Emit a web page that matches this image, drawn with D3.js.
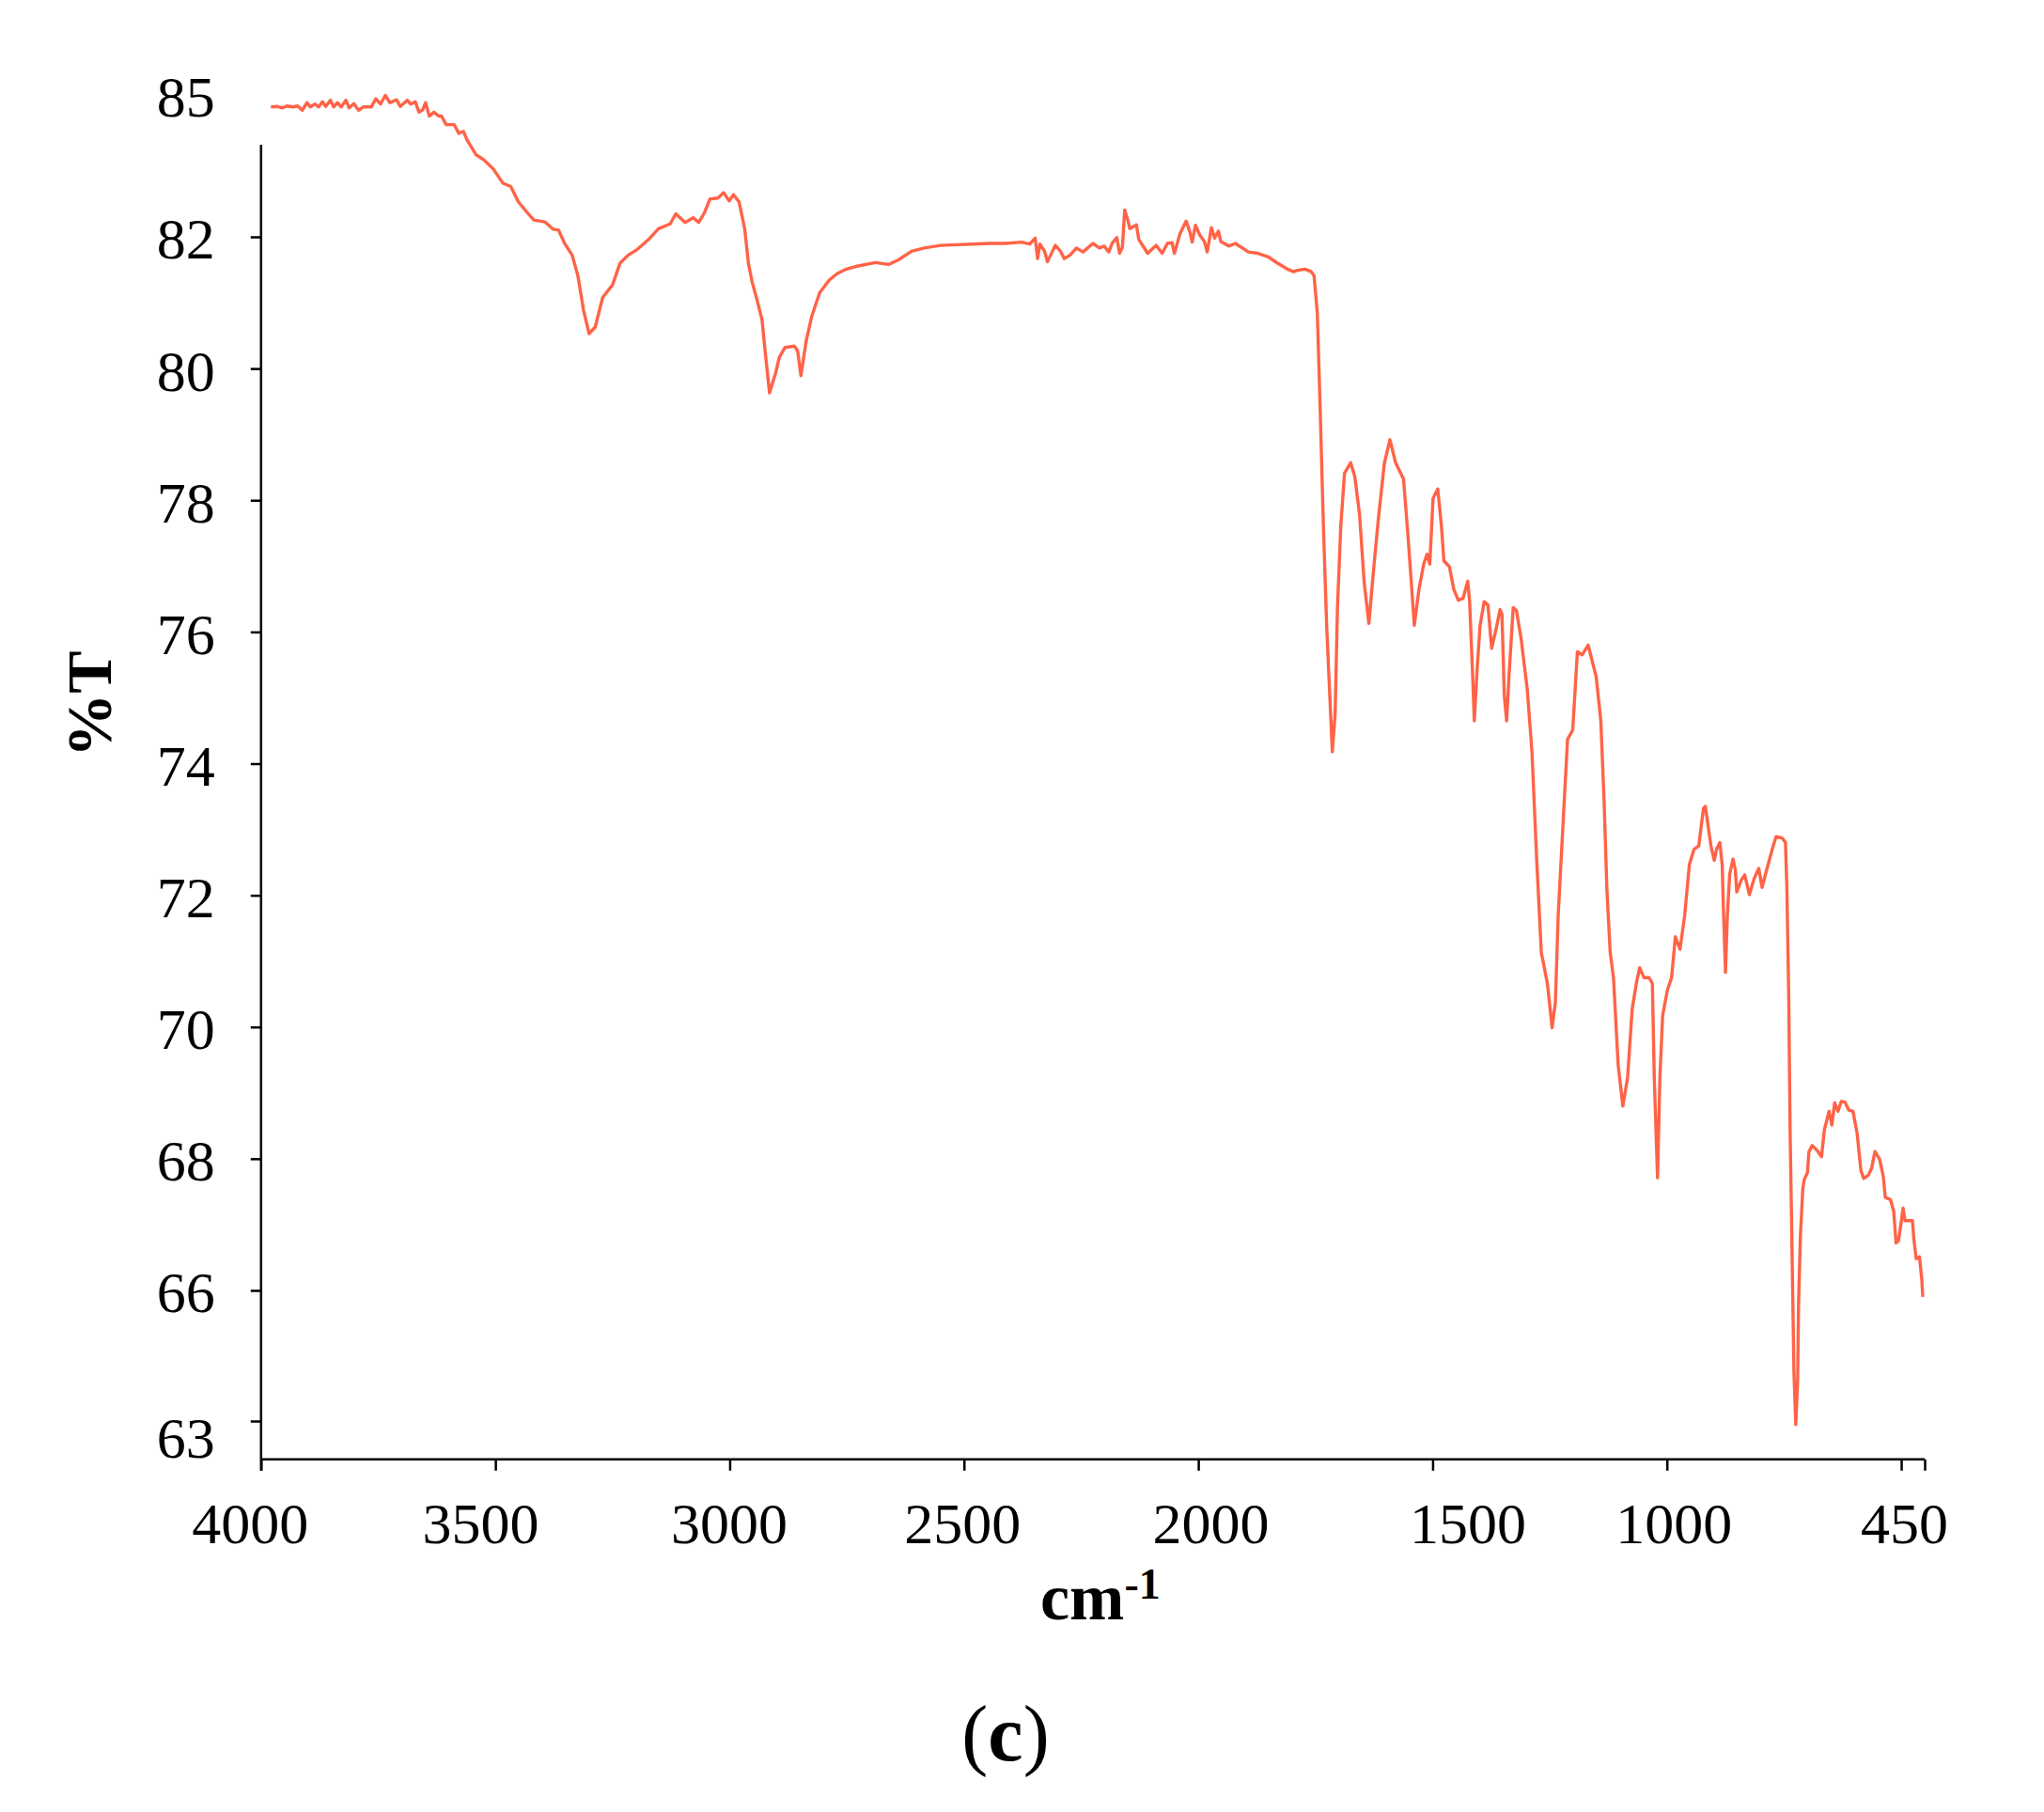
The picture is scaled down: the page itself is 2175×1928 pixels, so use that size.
<!DOCTYPE html>
<html>
<head>
<meta charset="utf-8">
<script src="https://cdn.jsdelivr.net/npm/d3@7"></script>
<style>
  html, body { margin: 0; padding: 0; background: #ffffff; }
  svg { display: block; }
  text { font-family: "Liberation Serif", "Times New Roman", serif; fill: #000; }
</style>
</head>
<body>
<svg id="chart" width="2175" height="1928"></svg>
<script>
// ---- data (wavenumber in cm-1, transmittance in %T) ----
const wavenumbers = [
  3979,3965,3955,3945,3932,3922,3912,3902,3895,3885,3877,3869,3862,3852,3845,3837,3829,3819,3812,3802,
  3792,3782,3765,3755,3745,3735,3725,3711,3703,3688,3681,3671,3663,3655,3649,3641,3631,3621,3615,3605,
  3588,3578,3568,3561,
  3541,3525,3504,
  3484,3467,3451,3434,3418,3394,3377,3365,3353,3336,3324,3312,3300,3287,3271,3250,3234,3217,3197,3173,
  3152,3127,3115,3095,3078,3066,3054,3042,3025,3013,3001,2992,2980,2968,2960,2952,2943,2931,2923,2915,
  2902,2894,2882,2862,2855,2848,2837,2825,2808,2788,2771,2751,2731,2689,2661,2640,2612,2585,2550,2516,
  2481,2447,2412,2377,2360,2348,2343,2338,2328,2322,2312,2305,2294,2286,2274,2260,2246,2225,2211,2201,
  2191,2184,2174,2168,2162,2157,2151,2146,2132,2127,2108,2090,2077,2066,2056,2051,2039,2026,2018,2013,
  2006,1997,1987,1981,1972,1965,1957,1952,1935,1921,1893,1873,1852,1831,1810,1796,1790,1772,1759,1753,
  1746,1740,1733,1726,1720,1714,1708,1703,1696,1688,1675,1666,1656,1646,1636,1626,1616,1603,1591,1579,
  1562,1552,1539,1529,1519,1512,1506,1499,1489,1481,1476,1464,1455,1445,1435,1425,1421,1415,1411,1405,
  1399,1390,1382,1374,1365,1356,1352,1347,1342,1337,1328,1321,1311,1298,1288,1278,1268,1255,1245,1238,
  1232,1222,1212,1201,1191,1181,1168,1151,1141,1134,1128,1121,1114,1104,1094,1084,1074,1064,1058,1049,
  1038,1031,1027,1020,1015,1009,999,990,982,972,962,952,942,932,922,918,912,906,899,894,
  887,882,879,875,871,866,859,854,851,842,834,824,814,804,797,787,774,767,754,747,
  744,740,737,732,729,725,721,719,715,710,707,700,697,690,680,670,664,654,648,642,
  635,628,620,612,603,594,586,580,570,563,556,546,538,534,523,516,511,506,501,496,
  492,483,476,473,468,461,456,454
];
const transmittance = [
  84.71,84.72,84.69,84.73,84.71,84.73,84.64,84.80,84.71,84.77,84.71,84.82,84.72,84.85,84.71,84.80,84.71,84.85,84.69,84.78,
  84.64,84.71,84.71,84.88,84.77,84.95,84.80,84.86,84.72,84.85,84.77,84.82,84.60,84.65,84.80,84.52,84.60,84.52,84.52,84.34,
  84.34,84.16,84.20,84.03,
  83.71,83.61,83.41,
  83.12,83.05,82.73,82.53,82.35,82.31,82.16,82.14,81.91,81.72,81.41,80.89,80.53,80.63,81.08,81.27,81.60,81.72,81.81,81.96,
  82.17,82.27,82.48,82.30,82.40,82.30,82.50,82.79,82.81,82.92,82.75,82.88,82.73,82.17,81.60,81.31,81.08,80.74,80.17,79.63,
  79.93,80.17,80.32,80.34,80.27,79.89,80.41,80.79,81.15,81.34,81.44,81.51,81.55,81.61,81.58,81.65,81.78,81.83,81.87,81.88,
  81.89,81.90,81.90,81.92,81.89,81.98,81.67,81.89,81.78,81.62,81.77,81.87,81.78,81.67,81.72,81.83,81.77,81.90,81.83,81.86,
  81.77,81.90,81.99,81.75,81.84,82.56,82.37,82.17,82.25,81.96,81.75,81.87,81.75,81.90,81.91,81.75,82.07,82.33,82.10,81.92,
  82.24,82.04,81.93,81.77,82.19,81.98,82.12,81.93,81.86,81.90,81.77,81.75,81.70,81.60,81.51,81.47,81.49,81.51,81.47,81.41,
  80.84,79.41,77.60,76.08,75.13,74.18,74.75,76.37,77.60,78.41,78.57,78.36,77.79,76.75,76.13,76.94,77.70,78.56,78.92,78.57,
  78.32,77.41,76.10,76.65,77.03,77.18,77.03,78.03,78.17,77.60,77.08,76.99,76.65,76.48,76.51,76.77,76.46,75.42,74.65,75.42,
  76.08,76.46,76.41,75.75,76.03,76.34,76.27,75.03,74.65,75.32,76.37,76.32,75.89,75.13,74.18,72.56,71.13,70.66,69.99,70.37,
  71.70,73.04,74.37,74.51,75.70,75.65,75.80,75.32,74.65,73.42,72.08,71.13,70.75,69.42,68.80,69.23,70.28,70.71,70.90,70.75,
  70.75,70.66,69.23,67.71,69.23,70.18,70.56,70.75,71.37,71.18,71.70,72.47,72.70,72.75,73.32,73.35,73.05,72.75,72.53,72.70,
  72.80,72.46,71.70,70.83,71.70,72.32,72.55,72.39,72.05,72.22,72.31,72.01,72.25,72.41,72.12,72.39,72.73,72.89,72.87,72.80,
  72.12,70.45,68.38,66.16,64.15,62.92,63.94,65.72,66.85,67.54,67.68,67.79,68.10,68.20,68.13,68.03,68.44,68.72,68.51,68.85,
  68.72,68.87,68.86,68.74,68.72,68.38,67.82,67.70,67.75,67.86,68.11,67.99,67.72,67.41,67.38,67.20,66.72,66.75,66.99,67.25,
  67.06,67.06,67.06,66.78,66.48,66.51,66.16,65.85
];

// ---- axis ticks & labels ----
const xTickValues = [4000, 3500, 3000, 2500, 2000, 1500, 1000, 500, 450];
const xTickLabels = ["4000", "3500", "3000", "2500", "2000", "1500", "1000", "", "450"];
const yTickValues = [63, 66, 68, 70, 72, 74, 76, 78, 80, 82, 85];
const yTickLabels = ["63", "66", "68", "70", "72", "74", "76", "78", "80", "82", "85"];
const xTitle = "cm";
const xTitleSup = "-1";
const yTitle = "%T";
const panelLabel = "c";

// ---- layout ----
const plotLeft = 277.8, plotRight = 2048;
const yAxisMin = 62.12, yAxisMax = 83.92;
const lineColor = "#ff6347";
const fontSize = 62;

const svg = d3.select("#chart");

const x = d3.scaleLinear().domain([4000, 450]).range([plotLeft, plotRight]);
// piecewise-linear scale that follows the printed tick labels
const y = d3.scaleLinear().domain([63, 66, 82, 85]).range([1512, 1373, 252, 99]);

const baseY = y(yAxisMin);

// ---- x axis ----
const xLabelShift = {4000: -12, 3500: -16, 3000: -1, 2500: -2, 2000: 13, 1500: 37, 1000: 7, 500: 0, 450: -22};
const gx = svg.append("g")
  .attr("transform", `translate(0,${baseY})`)
  .call(d3.axisBottom(x)
    .tickValues(xTickValues)
    .tickSize(12)
    .tickPadding(33)
    .tickFormat((d, i) => xTickLabels[i]));
gx.select(".domain").remove();
gx.selectAll(".tick line").attr("stroke", "#000").attr("stroke-width", 2.5);
gx.selectAll(".tick text")
  .attr("font-size", fontSize)
  .attr("font-family", "Liberation Serif, Times New Roman, serif")
  .attr("fill", "#000")
  .attr("dx", d => xLabelShift[d]);
svg.append("line")
  .attr("x1", x(4000)).attr("x2", x(450))
  .attr("y1", baseY).attr("y2", baseY)
  .attr("stroke", "#000").attr("stroke-width", 2.5);

// ---- y axis ----
const yLabelDy = {63: "0.62em", 85: "0.4em"};
const gy = svg.append("g")
  .attr("transform", `translate(${x(4000)},0)`)
  .call(d3.axisLeft(y)
    .tickValues(yTickValues)
    .tickSize(11)
    .tickPadding(38)
    .tickFormat((d, i) => yTickLabels[i]));
gy.select(".domain").remove();
gy.selectAll(".tick line")
  .attr("stroke", "#000").attr("stroke-width", 2.5)
  .attr("display", d => d > yAxisMax ? "none" : null);
gy.selectAll(".tick text")
  .attr("font-size", fontSize)
  .attr("font-family", "Liberation Serif, Times New Roman, serif")
  .attr("fill", "#000")
  .attr("dy", d => yLabelDy[d] || "0.37em");
svg.append("line")
  .attr("x1", x(4000)).attr("x2", x(4000))
  .attr("y1", y(yAxisMax)).attr("y2", baseY + 12)
  .attr("stroke", "#000").attr("stroke-width", 2.5);

// ---- spectrum line ----
const n = Math.min(wavenumbers.length, transmittance.length);
const pts = d3.range(n).map(i => [wavenumbers[i], transmittance[i]]);
const line = d3.line().x(d => x(d[0])).y(d => y(d[1]));
svg.append("path")
  .datum(pts)
  .attr("d", line)
  .attr("fill", "none")
  .attr("stroke", lineColor)
  .attr("stroke-width", 3.4)
  .attr("stroke-linejoin", "round");

// ---- titles ----
const xt = svg.append("text")
  .attr("x", 1107).attr("y", 1723)
  .attr("font-size", 70).attr("font-weight", "bold");
xt.append("tspan").text(xTitle);
xt.append("tspan").attr("dy", -22).attr("font-size", 46).text(xTitleSup);

svg.append("text")
  .attr("transform", "translate(118,749) rotate(-90)")
  .attr("text-anchor", "middle")
  .attr("font-size", 68).attr("font-weight", "bold")
  .text(yTitle);

const pl = svg.append("text")
  .attr("x", 1070).attr("y", 1873)
  .attr("text-anchor", "middle")
  .attr("font-size", 84);
pl.append("tspan").text("(");
pl.append("tspan").attr("font-weight", "bold").text(panelLabel);
pl.append("tspan").text(")");
</script>
</body>
</html>
